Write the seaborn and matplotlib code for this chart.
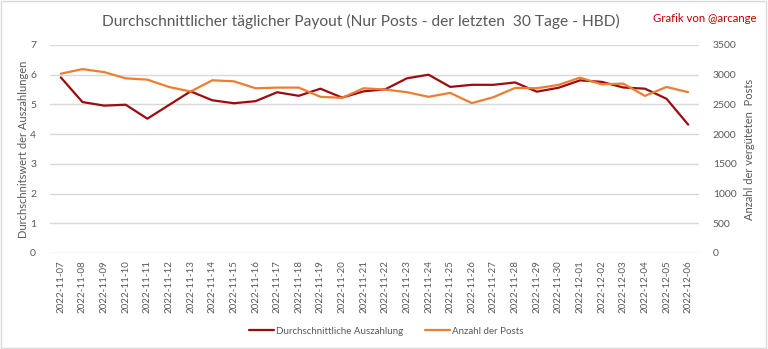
import matplotlib
matplotlib.use("Agg")
import matplotlib.pyplot as plt
import seaborn as sns
import pandas as pd
from matplotlib.patches import Rectangle

dates = ["2022-11-07", "2022-11-08", "2022-11-09", "2022-11-10", "2022-11-11",
         "2022-11-12", "2022-11-13", "2022-11-14", "2022-11-15", "2022-11-16",
         "2022-11-17", "2022-11-18", "2022-11-19", "2022-11-20", "2022-11-21",
         "2022-11-22", "2022-11-23", "2022-11-24", "2022-11-25", "2022-11-26",
         "2022-11-27", "2022-11-28", "2022-11-29", "2022-11-30", "2022-12-01",
         "2022-12-02", "2022-12-03", "2022-12-04", "2022-12-05", "2022-12-06"]
avg_payout = [5.91, 5.08, 4.96, 4.99, 4.52, 4.98, 5.44, 5.14, 5.04, 5.11,
              5.41, 5.29, 5.53, 5.23, 5.44, 5.51, 5.88, 6.00, 5.59, 5.66,
              5.66, 5.74, 5.43, 5.56, 5.81, 5.76, 5.57, 5.53, 5.19, 4.32]
post_count = [3017, 3094, 3044, 2939, 2917, 2794, 2717, 2906, 2889, 2772,
              2783, 2783, 2628, 2611, 2772, 2750, 2706, 2628, 2694, 2522,
              2622, 2778, 2772, 2828, 2950, 2839, 2850, 2644, 2794, 2706]

title = "Durchschnittlicher täglicher Payout (Nur Posts - der letzten  30 Tage - HBD)"
credit = "Grafik von @arcange"
left_label = "Durchschnitswert der Auszahlungen"
right_label = "Anzahl der vergüteten  Posts"
series1 = "Durchschnittliche Auszahlung"
series2 = "Anzahl der Posts"
left_ticks = [0, 1, 2, 3, 4, 5, 6, 7]
right_ticks = [0, 500, 1000, 1500, 2000, 2500, 3000, 3500]

df = pd.DataFrame({"date": dates, "avg": avg_payout, "posts": post_count})

sns.set_style("white")
plt.rcParams["font.family"] = ["Lato", "DejaVu Sans"]

RED = "#9E0B0F"
ORANGE = "#ED7D31"
GRAY = "#595959"
GRID = "#D9D9D9"

fig = plt.figure(figsize=(7.68, 3.49), dpi=100)
ax = fig.add_axes([50 / 768, 1 - 253 / 349, (699 - 50) / 768, (253 - 45) / 349])
ax2 = ax.twinx()

sns.lineplot(data=df, x="date", y="avg", ax=ax, color=RED, linewidth=1.6,
             label=series1, legend=False, sort=False)
sns.lineplot(data=df, x="date", y="posts", ax=ax2, color=ORANGE, linewidth=1.6,
             label=series2, legend=False, sort=False)

ax.set_xlim(-0.5, len(dates) - 0.5)
ax.set_ylim(0, 7)
ax2.set_ylim(0, 3500)
ax.set_yticks(left_ticks)
ax2.set_yticks(right_ticks)
ax.set_xticks(range(len(dates)))
ax.set_xticklabels(dates, rotation=90, fontsize=7, color=GRAY)
ax.tick_params(axis="y", labelsize=7.5, colors=GRAY, length=0, pad=10)
ax2.tick_params(axis="y", labelsize=7.5, colors=GRAY, length=0, pad=10)
ax.tick_params(axis="x", length=0, pad=5)
ax.grid(axis="y", color=GRID, linewidth=1)
ax.set_axisbelow(True)
ax.set_xlabel("")
ax.set_ylabel(left_label, fontsize=8, color=GRAY, labelpad=1)
ax2.set_ylabel(right_label, fontsize=8, color=GRAY, labelpad=5)
for a in (ax, ax2):
    for s in a.spines.values():
        s.set_visible(False)

fig.text(361 / 768, 1 - 21 / 349, title, ha="center", va="center",
         fontsize=11.2, color=GRAY)
fig.text(757 / 768, 1 - 19 / 349, credit, ha="right", va="center",
         fontsize=8.2, color="#C00000")

h1, l1 = ax.get_legend_handles_labels()
h2, l2 = ax2.get_legend_handles_labels()
fig.legend(h1 + h2, l1 + l2, loc="center", bbox_to_anchor=(386 / 768, 1 - 331 / 349),
           ncol=2, frameon=False, fontsize=7, handlelength=2.6, handletextpad=0.2,
           columnspacing=2.2, labelcolor=GRAY)

fig.patches.append(Rectangle((0.001, 0.002), 0.997, 0.995, transform=fig.transFigure,
                             fill=False, edgecolor=GRID, linewidth=1))

fig.savefig("out.png", dpi=100)
